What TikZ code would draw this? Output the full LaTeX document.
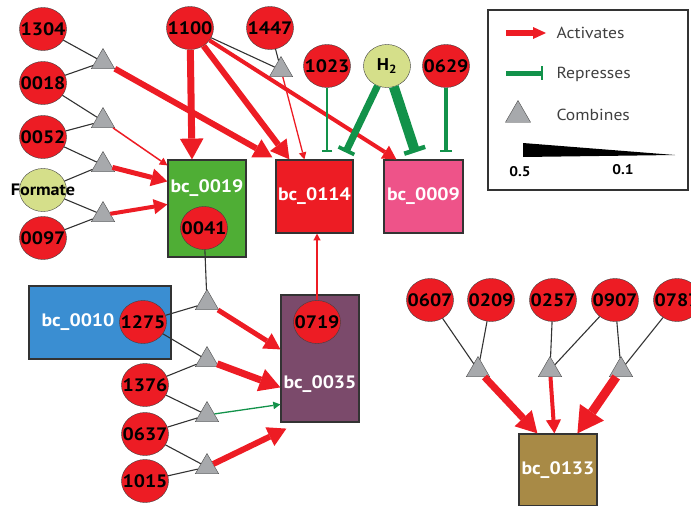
\documentclass[tikz,border=0pt]{standalone}
\usepackage{fontspec}
\setmainfont[FakeStretch=1.1]{PT Sans}
\usetikzlibrary{shapes.geometric,arrows.meta}
\definecolor{netred}{HTML}{ED1C24}
\definecolor{netgreen}{HTML}{12924A}
\definecolor{molyel}{HTML}{D5DF8A}
\definecolor{combgray}{HTML}{A7A9AC}
\definecolor{boxgreen}{HTML}{4FAE35}
\definecolor{boxpink}{HTML}{EE5389}
\definecolor{boxblue}{HTML}{3A8ED2}
\definecolor{boxplum}{HTML}{7B4A6B}
\definecolor{boxgold}{HTML}{A88A46}
\newcommand{\numtxt}[1]{\makebox[0pt]{#1}}

\begin{document}
\begin{tikzpicture}[x=1pt,y=-1pt,
    num/.style={ellipse,draw=black!75,fill=netred,minimum width=47pt,minimum height=43pt,inner sep=0pt,font=\fontsize{18}{18}\selectfont\bfseries},
    comb/.style={regular polygon,regular polygon sides=3,draw=black!70,fill=combgray,minimum size=27pt,inner sep=0pt},
    bc/.style={draw=black!80,line width=1.2pt,inner sep=0pt,text=white,font=\fontsize{18}{18}\selectfont\bfseries},
    boxlbl/.style={text=white,font=\fontsize{18}{18}\selectfont\bfseries},
    link/.style={draw=black!80,line width=1.1pt},
    act/.style={draw=netred,-{Triangle[length=4pt 2.4,width=4pt 2.8,line width=0pt]}},
    rep/.style={draw=netgreen,-{Bar[width=7pt 1.5,line width=2pt 0.25]}},
    legtext/.style={anchor=west,text=black!75,font=\fontsize{16}{16}\selectfont}]
    \useasboundingbox (0,0) rectangle (691,506);

    % boxes
    \node[bc,fill=boxgreen,minimum width=78pt,minimum height=97pt] (b0019) at (207,208.5) {};
    \node[boxlbl] (l0019) at (207,188) {bc\_0019};
    \node[bc,fill=netred,minimum width=77pt,minimum height=73pt] (b0114) at (314.5,196.5) {bc\_0114};
    \node[bc,fill=boxpink,minimum width=79pt,minimum height=73pt] (b0009) at (423.5,196.5) {bc\_0009};
    \node[bc,fill=boxblue,minimum width=142pt,minimum height=73pt] (b0010) at (100,322.5) {};
    \node[boxlbl] (l0010) at (78,322) {bc\_0010};
    \node[bc,fill=boxplum,minimum width=78pt,minimum height=127pt] (b0035) at (320,358.5) {};
    \node[boxlbl] (l0035) at (320,384) {bc\_0035};
    \node[bc,fill=boxgold,minimum width=78pt,minimum height=72pt] (b0133) at (558,470) {bc\_0133};

    % genes
    \node[num] (c1304) at (43,29) {\numtxt{1304}};
    \node[num] (c0018) at (43,83) {\numtxt{0018}};
    \node[num] (c0052) at (43,137) {\numtxt{0052}};
    \node[num,fill=molyel,font=\fontsize{16.5}{16.5}\selectfont\bfseries] (cform) at (43,190) {\numtxt{Formate}};
    \node[num] (c0097) at (43,238) {\numtxt{0097}};
    \node[num] (c1100) at (190,28) {\numtxt{1100}};
    \node[num] (c1447) at (270,28) {\numtxt{1447}};
    \node[num] (c1023) at (327,66) {\numtxt{1023}};
    \node[num,fill=molyel,font=\fontsize{17}{17}\selectfont\bfseries] (cH2) at (387,66) {\numtxt{H\textsubscript{2}}};
    \node[num] (c0629) at (446,66) {\numtxt{0629}};
    \node[num] (c0041) at (204,228) {\numtxt{0041}};
    \node[num] (c1275) at (143,322) {\numtxt{1275}};
    \node[num] (c1376) at (145,385) {\numtxt{1376}};
    \node[num] (c0637) at (145,434) {\numtxt{0637}};
    \node[num] (c1015) at (145,481) {\numtxt{1015}};
    \node[num] (c0719) at (317,322) {\numtxt{0719}};
    \node[num] (c0607) at (430,300) {\numtxt{0607}};
    \node[num] (c0209) at (491,300) {\numtxt{0209}};
    \node[num] (c0257) at (553,300) {\numtxt{0257}};
    \node[num] (c0907) at (615,300) {\numtxt{0907}};
    \node[num] (c0787) at (677,300) {\numtxt{0787}};

    % combinations
    \node[comb] (t1) at (103,62) {};
    \node[comb] (t2) at (103,121) {};
    \node[comb] (t3) at (103,165) {};
    \node[comb] (t4) at (103,215) {};
    \node[comb] (t1447) at (281,70) {};
    \node[comb] (t5) at (207,303) {};
    \node[comb] (t6) at (207,360) {};
    \node[comb] (t7) at (207,415) {};
    \node[comb] (t8) at (207,467) {};
    \node[comb] (tA) at (478,370) {};
    \node[comb] (tB) at (550,370) {};
    \node[comb] (tC) at (621,370) {};

    % inputs of the combinations
    \draw[link] (c1304) -- (t1);
    \draw[link] (c0018) -- (t1);
    \draw[link] (c0018) -- (t2);
    \draw[link] (c0052) -- (t2);
    \draw[link] (c0052) -- (t3);
    \draw[link] (cform) -- (t3);
    \draw[link] (cform) -- (t4);
    \draw[link] (c0097) -- (t4);
    \draw[link] (c1100) -- (t1447);
    \draw[link] (c1447) -- (t1447);
    \draw[link] (c0041) -- (t5);
    \draw[link] (c1275) -- (t5);
    \draw[link] (c1275) -- (t6);
    \draw[link] (c1376) -- (t6);
    \draw[link] (c1376) -- (t7);
    \draw[link] (c0637) -- (t7);
    \draw[link] (c0637) -- (t8);
    \draw[link] (c1015) -- (t8);
    \draw[link] (c0607) -- (tA);
    \draw[link] (c0209) -- (tA);
    \draw[link] (c0257) -- (tB);
    \draw[link] (c0907) -- (tB);
    \draw[link] (c0907) -- (tC);
    \draw[link] (c0787) -- (tC);

    % activation
    \draw[act,line width=7pt] (c1100) -- ([xshift=-15pt]b0019.north);
    \draw[act,line width=6pt] (t1) -- ([xshift=-3pt,yshift=2pt]b0114.north west);
    \draw[act,line width=6pt] (c1100) -- ([xshift=14pt]b0114.north west);
    \draw[act,line width=4pt] (c1100) -- ([xshift=13pt]b0009.north west);
    \draw[act,line width=1.3pt] (t1447) -- ([xshift=29pt]b0114.north west);
    \draw[act,line width=1.5pt] (t2) -- ([yshift=-6pt]b0019.north west);
    \draw[act,line width=5pt] (t3) -- ([yshift=-22pt]b0019.north west);
    \draw[act,line width=4pt] (t4) -- ([yshift=-45pt]b0019.north west);
    \draw[act,line width=1.2pt] (c0719) -- (c0719 |- b0114.south);
    \draw[act,line width=5pt] (t5) -- ([yshift=-55pt]b0035.north west);
    \draw[act,line width=7pt] (t6) -- ([yshift=-93pt]b0035.north west);
    \draw[act,draw=netgreen,line width=1.3pt] (t7) -- ([yshift=-110pt]b0035.north west);
    \draw[act,line width=6pt] (t8) -- ([xshift=6pt,yshift=-6pt]b0035.south west);
    \draw[act,line width=7pt] (tA) -- ([xshift=19pt]b0133.north west);
    \draw[act,line width=4pt] (tB) -- ([xshift=36pt]b0133.north west);
    \draw[act,line width=9pt] (tC) -- ([xshift=59pt]b0133.north west);

    % repression
    \draw[rep,line width=2.5pt,shorten >=7pt] (c1023) -- (c1023 |- b0114.north);
    \draw[rep,line width=7pt] (cH2) -- ([xshift=-8pt,yshift=7pt]b0114.north east);
    \draw[rep,line width=10pt] (cH2) -- ([xshift=32pt,yshift=7pt]b0009.north west);
    \draw[rep,line width=3.5pt,shorten >=7pt] (c0629) -- (c0629 |- b0009.north);

    % legend
    \draw[black!80,line width=1.2pt] (488,10) rectangle (688,190);
    \coordinate (la0) at (506,33);
    \coordinate (la1) at (546,33);
    \draw[draw=netred,line width=6pt,-{Triangle[length=13pt,width=12pt,line width=0pt]}] (la0) -- (la1);
    \node[legtext] (lact) at (553,33) {Activates};
    \coordinate (lr0) at (506,73);
    \coordinate (lr1) at (543,73);
    \draw[draw=netgreen,line width=5pt,-{Bar[width=14pt,line width=2.5pt]}] (lr0) -- (lr1);
    \node[legtext] (lrep) at (553,74) {Represses};
    \node[comb,minimum size=29pt] (lcomb) at (518,115) {};
    \node[legtext] (lcmb) at (553,115) {Combines};
    \fill (523,143) -- (675,155) -- (523,157) -- cycle;
    \node[font=\fontsize{14}{14}\selectfont\bfseries] (lhi) at (520,172) {0.5};
    \node[font=\fontsize{14}{14}\selectfont\bfseries] (llo) at (623,170) {0.1};
\end{tikzpicture}
\end{document}
